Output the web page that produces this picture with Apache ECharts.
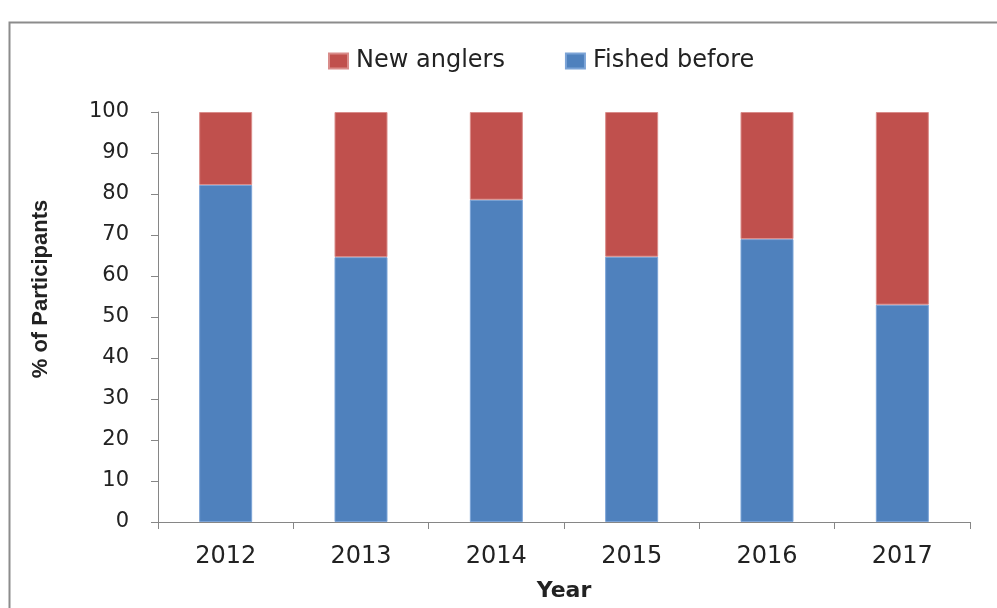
<!DOCTYPE html>
<html><head><meta charset="utf-8">
<script src="https://cdn.jsdelivr.net/npm/echarts@6/dist/echarts.min.js"></script>
<style>html,body{margin:0;padding:0;background:#fff}#c{width:997px;height:608px}</style>
</head><body><div id="c"></div>
<script>
const years = ['2012','2013','2014','2015','2016','2017'];
const fishedBefore = [82.2, 64.6, 78.6, 64.7, 69.0, 53.0];
const newAnglers = [17.8, 35.4, 21.4, 35.3, 31.0, 47.0];
const yTicks = [0,10,20,30,40,50,60,70,80,90,100];
const yTitle = '% of Participants';
const xTitle = 'Year';
const dv = '"DejaVu Sans", Verdana, sans-serif';
const chart = echarts.init(document.getElementById('c'), null, {renderer:'canvas'});
chart.setOption({
  animation:false,
  backgroundColor:'#fff',
  graphic:[
    {type:'rect',shape:{x:9.5,y:22.5,width:1000,height:600},style:{fill:'none',stroke:'#8c8c8c',lineWidth:2},silent:true},
    {type:'text',x:41,y:289,rotation:Math.PI/2,
     style:{text:yTitle,fontFamily:'"Liberation Sans", Arial, sans-serif',fontWeight:'bold',fontSize:22,fill:'#222',align:'center',verticalAlign:'middle'}}
  ],
  legend:{
    data:['New anglers','Fished before'],
    top:44, left:323,
    itemWidth:19, itemHeight:15, itemGap:60,
    icon:'rect',
    textStyle:{fontFamily:dv,fontSize:24,color:'#222',padding:[0,0,0,3]}
  },
  grid:{left:158,right:27,top:112,bottom:86},
  xAxis:{
    type:'category', data:years,
    axisLine:{lineStyle:{color:'#868686',width:1}},
    axisTick:{show:true,alignWithLabel:false,length:7,lineStyle:{color:'#868686'}},
    axisLabel:{fontFamily:dv,fontSize:24,color:'#222',margin:23},
    name:xTitle, nameLocation:'middle', nameGap:58,
    nameTextStyle:{fontFamily:dv,fontSize:22,fontWeight:'bold',color:'#222'}
  },
  yAxis:{
    type:'value', min:0, max:100, interval:10,
    axisLine:{show:true,lineStyle:{color:'#868686',width:1}},
    axisTick:{show:true,length:7,lineStyle:{color:'#868686'}},
    splitLine:{show:false},
    axisLabel:{fontFamily:dv,fontSize:21,color:'#222',margin:29,
      formatter:v=>yTicks.includes(v)?String(v):''}
  },
  series:[
    {name:'Fished before',type:'bar',stack:'s',data:fishedBefore,barWidth:53,
     itemStyle:{color:'#4F81BD',borderColor:'#7ba3d6',borderWidth:1}},
    {name:'New anglers',type:'bar',stack:'s',data:newAnglers,barWidth:53,
     itemStyle:{color:'#C0504D',borderColor:'#d98c8a',borderWidth:1}}
  ]
});
</script></body></html>
